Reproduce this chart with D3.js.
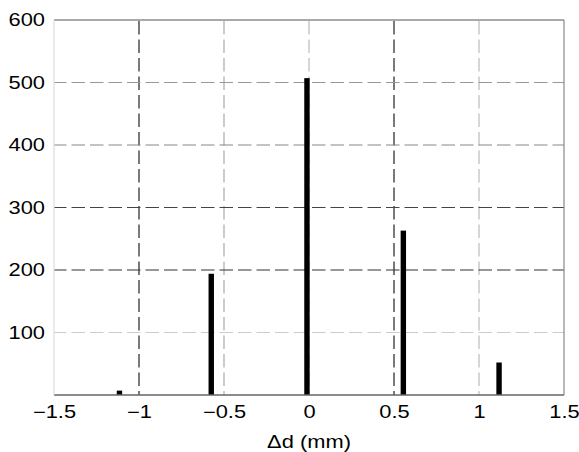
<!DOCTYPE html>
<html><head><meta charset="utf-8">
<script src="https://cdn.jsdelivr.net/npm/d3@7"></script>
<style>body{margin:0;background:#fff}svg{display:block}text{font-family:"Liberation Sans",Arial,sans-serif}</style>
</head><body><svg id="c" width="579" height="452"></svg>
<script>
const positions = [-1.115, -0.575, -0.012, 0.555, 1.118];
const counts = [7, 194, 507, 263, 52];
const xTicks = [-1.5, -1, -0.5, 0, 0.5, 1, 1.5];
const xTickLabels = ["\u22121.5", "\u22121", "\u22120.5", "0", "0.5", "1", "1.5"];
const yTicks = [100, 200, 300, 400, 500, 600];
const yTickLabels = ["100", "200", "300", "400", "500", "600"];
const xGridColors = ["#222", "#aaa", "#bbb", "#222", "#bbb"];
const yGridColors = ["#ccc", "#333", "#444", "#888", "#999"];
const xLabel = "\u0394d (mm)";

const svg = d3.select("#c");
const L = 54, R = 564, T = 20, B = 395;
const FS = 17.5, SX = 1.25;
const x = d3.scaleLinear().domain([-1.5, 1.5]).range([L, R]);
const y = d3.scaleLinear().domain([0, 600]).range([B, T]);

// grid
svg.append("g").selectAll("line").data([-1, -0.5, 0, 0.5, 1]).join("line")
  .attr("x1", d => x(d)).attr("x2", d => x(d)).attr("y1", T).attr("y2", B)
  .attr("stroke", (d, i) => xGridColors[i]).attr("stroke-width", 1.2)
  .attr("stroke-dasharray", "13.5,5").attr("stroke-dashoffset", -1);
svg.append("g").selectAll("line").data([100, 200, 300, 400, 500]).join("line")
  .attr("x1", L).attr("x2", R).attr("y1", d => y(d)).attr("y2", d => y(d))
  .attr("stroke", (d, i) => yGridColors[i]).attr("stroke-width", 1.2)
  .attr("stroke-dasharray", "13.5,5").attr("stroke-dashoffset", 1);

// bars
const bw = 5.4;
svg.append("g").selectAll("rect").data(positions).join("rect")
  .attr("x", (d) => x(d) - bw / 2).attr("width", bw)
  .attr("y", (d, i) => y(counts[i])).attr("height", (d, i) => y(0) - y(counts[i]))
  .attr("fill", "#000");

// frame
svg.append("line").attr("x1", L).attr("x2", R).attr("y1", T).attr("y2", T).attr("stroke", "#555").attr("stroke-width", 1.2);
svg.append("line").attr("x1", L).attr("x2", R).attr("y1", B).attr("y2", B).attr("stroke", "#666").attr("stroke-width", 1.5);
svg.append("line").attr("x1", L).attr("x2", L).attr("y1", T).attr("y2", B).attr("stroke", "#ddd").attr("stroke-width", 1.2);
svg.append("line").attr("x1", R).attr("x2", R).attr("y1", T).attr("y2", B).attr("stroke", "#888").attr("stroke-width", 1.2);

// axes
const xAxis = d3.axisBottom(x).tickValues(xTicks).tickFormat((d, i) => xTickLabels[i]).tickSize(0).tickPadding(10.5);
const gx = svg.append("g").attr("transform", `translate(0,${B})`).call(xAxis);
gx.select(".domain").remove();
gx.selectAll("text").attr("font-size", FS).attr("fill", "#000")
  .attr("font-family", "'Liberation Sans',Arial,sans-serif").attr("transform", `scale(${SX},1)`);

const yAxis = d3.axisLeft(y).tickValues(yTicks).tickFormat((d, i) => yTickLabels[i]).tickSize(0).tickPadding(7.2);
const gy = svg.append("g").attr("transform", `translate(${L},0)`).call(yAxis);
gy.select(".domain").remove();
gy.selectAll("text").attr("font-size", FS).attr("fill", "#000")
  .attr("font-family", "'Liberation Sans',Arial,sans-serif").attr("transform", `scale(${SX},1)`);

svg.append("g").attr("transform", `translate(${x(0)},447.5) scale(${SX},1)`)
  .append("text").attr("text-anchor", "middle")
  .attr("font-size", FS).attr("fill", "#000").text(xLabel);
</script></body></html>
